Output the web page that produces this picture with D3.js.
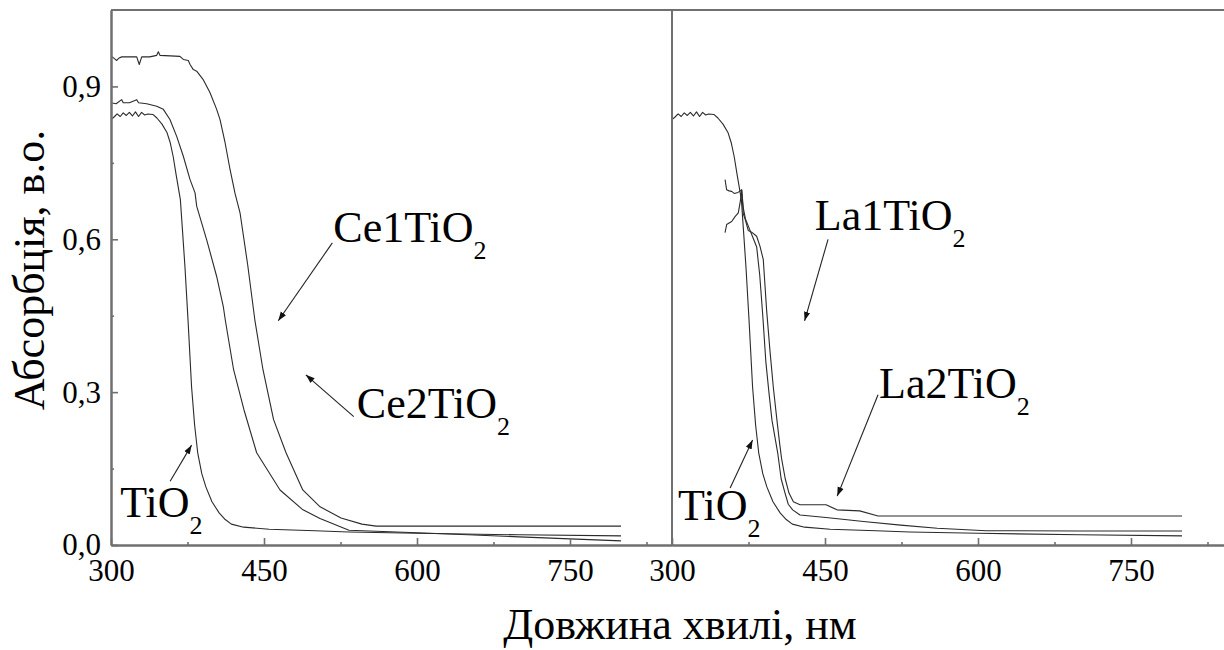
<!DOCTYPE html>
<html>
<head>
<meta charset="utf-8">
<script src="https://cdn.jsdelivr.net/npm/d3@7"></script>
<style>
  body { margin: 0; background: #fff; }
  svg { display: block; }
</style>
</head>
<body>
<svg id="chart" width="1224" height="650"></svg>
<script>
// Absorption spectra, [wavelength nm, absorbance a.u.]
const tio2 = [[300,0.835],[303,0.840],[306,0.846],[309,0.841],[312,0.848],[315,0.843],[318,0.849],[321,0.842],[324,0.850],[327,0.841],[330,0.849],[333,0.844],[336,0.846],[341,0.845],[345,0.838],[350,0.826],[355,0.809],[358,0.790],[361,0.762],[364,0.725],[368,0.678],[370,0.62],[372.5,0.546],[375.5,0.442],[379,0.31],[382,0.235],[385,0.181],[389,0.14],[393,0.114],[399,0.085],[406,0.063],[412,0.050],[418,0.041],[430,0.035],[455,0.031],[500,0.028],[533,0.0255],[600,0.023],[700,0.020],[800,0.018]];

const ce1 = [[300,0.960],[303,0.955],[305.6,0.951],[308,0.956],[310.5,0.958],[318,0.958],[325.2,0.958],[327.7,0.943],[330.1,0.958],[338,0.958],[344.8,0.961],[346.4,0.968],[348,0.961],[358,0.960],[367.6,0.959],[370.9,0.953],[375.8,0.951],[377.5,0.943],[380.7,0.933],[384,0.930],[390.2,0.914],[397,0.888],[403.6,0.855],[406.9,0.835],[411.8,0.79],[416.7,0.737],[421.6,0.69],[426.5,0.652],[434,0.55],[441,0.442],[449,0.344],[459.4,0.246],[471.6,0.181],[488,0.108],[505,0.075],[525.5,0.053],[546,0.041],[560,0.037],[800,0.037]];

const ce2 = [[300,0.868],[305,0.866],[310.5,0.874],[312,0.868],[318,0.868],[325.2,0.874],[327,0.868],[335,0.866],[344.8,0.861],[351.3,0.855],[357.8,0.835],[364.4,0.802],[370.9,0.763],[377.5,0.717],[382.4,0.691],[384,0.665],[393.8,0.599],[403.6,0.527],[410.1,0.468],[412,0.442],[420.2,0.344],[430.4,0.265],[442.8,0.181],[465.7,0.108],[488.2,0.069],[504.9,0.052],[533.3,0.029],[560,0.027],[600,0.024],[650,0.020],[700,0.016],[750,0.012],[800,0.008]];

const la1 = [[352,0.717],[353.6,0.697],[356,0.695],[358.5,0.694],[361,0.690],[364.7,0.692],[368.3,0.697],[370,0.66],[372,0.64],[376,0.62],[380,0.60],[383,0.585],[386,0.53],[389,0.45],[392,0.36],[395,0.30],[398,0.245],[403.7,0.18],[407,0.13],[410.8,0.102],[414,0.08],[418.3,0.069],[425.5,0.059],[451,0.054],[487.7,0.046],[524.2,0.039],[560,0.033],[608,0.028],[700,0.0275],[800,0.0275]];

const la2 = [[352,0.613],[353.6,0.629],[356,0.632],[358.5,0.635],[362,0.645],[365,0.652],[367,0.675],[368.3,0.697],[369.9,0.650],[371.6,0.640],[374.8,0.617],[378.1,0.614],[383,0.606],[386.3,0.586],[389.5,0.56],[392.8,0.46],[396.1,0.38],[399.3,0.31],[402.6,0.25],[405.5,0.20],[407.4,0.17],[411,0.13],[414.7,0.102],[419,0.085],[425.5,0.079],[451,0.079],[461.8,0.069],[484,0.067],[502,0.057],[800,0.057]];

const xMajorTicks = [300, 450, 600, 750];
const xMinorTicks = [375, 525, 675, 825];
const yMajorTicks = [0, 0.3, 0.6, 0.9];
const yMinorTicks = [0.15, 0.45, 0.75];
const yTickLabels = ["0,0", "0,3", "0,6", "0,9"];

const xDomain = [300, 850];
const yDomain = [0, 1.05];

// Each panel: its curves plus callout labels (text anchor point and arrow ends, in data units)
const panels = [
  {
    left: 111,
    curves: [tio2, ce2, ce1],
    labels: [
      { name: "Ce1TiO", sub: "2", at: [518, 0.594], from: [517, 0.593], to: [464, 0.44] },
      { name: "Ce2TiO", sub: "2", at: [541, 0.250], from: [538, 0.252], to: [491, 0.334] },
      { name: "TiO", sub: "2", at: [309, 0.055], from: [358, 0.125], to: [379, 0.196] }
    ]
  },
  {
    left: 672,
    curves: [tio2, la1, la2],
    labels: [
      { name: "La1TiO", sub: "2", at: [440, 0.619], from: [453, 0.600], to: [430, 0.44] },
      { name: "La2TiO", sub: "2", at: [503, 0.289], from: [502, 0.295], to: [462, 0.096] },
      { name: "TiO", sub: "2", at: [306, 0.049], from: [357, 0.112], to: [379, 0.206] }
    ]
  }
];

const panelWidth = 561, plotTop = 10, plotBottom = 545;
const axisColor = "#707070";
const lineColor = "#2b2b2b";
const serif = "'Liberation Serif', 'Times New Roman', Tinos, serif";

const svg = d3.select("#chart");
const y = d3.scaleLinear().domain(yDomain).range([plotBottom, plotTop]);

svg.append("defs").append("marker")
  .attr("id", "arrowhead")
  .attr("viewBox", "0 0 10 10")
  .attr("refX", 10).attr("refY", 5)
  .attr("markerWidth", 9).attr("markerHeight", 9)
  .attr("markerUnits", "userSpaceOnUse")
  .attr("orient", "auto")
  .append("path").attr("d", "M0,1.5 L10,5 L0,8.5 Z").attr("fill", "#111");

panels.forEach((p, i) => {
  const x = d3.scaleLinear().domain(xDomain).range([p.left, p.left + panelWidth]);
  const g = svg.append("g");

  // spectra
  const line = d3.line().x(d => x(d[0])).y(d => y(d[1]));
  g.selectAll("path.curve").data(p.curves).join("path")
    .attr("class", "curve")
    .attr("d", line)
    .attr("fill", "none")
    .attr("stroke", lineColor)
    .attr("stroke-width", 1.1)
    .attr("stroke-linejoin", "round");

  // bottom axis: major + minor ticks pointing inward
  const xMajor = d3.axisBottom(x).tickValues(xMajorTicks).tickSize(-7).tickSizeOuter(0).tickFormat(d3.format("d"));
  const xMinor = d3.axisBottom(x).tickValues(xMinorTicks).tickSize(-3).tickSizeOuter(0).tickFormat("");
  const gxMinor = g.append("g").attr("transform", `translate(0,${plotBottom})`).call(xMinor);
  const gx = g.append("g").attr("transform", `translate(0,${plotBottom})`).call(xMajor);
  [gx, gxMinor].forEach(a => {
    a.select(".domain").attr("stroke", axisColor).attr("stroke-width", 2);
    a.selectAll(".tick line").attr("stroke", axisColor).attr("stroke-width", 1.6);
  });
  gx.selectAll(".tick text")
    .style("font-family", serif)
    .style("font-size", "31px")
    .attr("fill", "#000")
    .attr("dy", "0.71em")
    .attr("y", 14);

  // top frame line
  g.append("line")
    .attr("x1", p.left).attr("x2", p.left + panelWidth)
    .attr("y1", plotTop).attr("y2", plotTop)
    .attr("stroke", axisColor).attr("stroke-width", 2);

  // left axis
  if (i === 0) {
    const yMajor = d3.axisLeft(y).tickValues(yMajorTicks).tickSize(-7).tickSizeOuter(0)
      .tickFormat((d, k) => yTickLabels[k]);
    const yMinor = d3.axisLeft(y).tickValues(yMinorTicks).tickSize(-3).tickSizeOuter(0).tickFormat("");
    const gyMinor = g.append("g").attr("transform", `translate(${p.left},0)`).call(yMinor);
    const gy = g.append("g").attr("transform", `translate(${p.left},0)`).call(yMajor);
    [gy, gyMinor].forEach(a => {
      a.select(".domain").attr("stroke", axisColor).attr("stroke-width", 2);
      a.selectAll(".tick line").attr("stroke", axisColor).attr("stroke-width", 1.6);
    });
    gy.selectAll(".tick text")
      .style("font-family", serif)
      .style("font-size", "31px")
      .attr("fill", "#000")
      .attr("x", -10);
  } else {
    g.append("line")
      .attr("x1", p.left).attr("x2", p.left)
      .attr("y1", plotTop).attr("y2", plotBottom)
      .attr("stroke", axisColor).attr("stroke-width", 2);
  }

  // callouts
  p.labels.forEach(l => {
    g.append("line")
      .attr("x1", x(l.from[0])).attr("y1", y(l.from[1]))
      .attr("x2", x(l.to[0])).attr("y2", y(l.to[1]))
      .attr("stroke", "#222").attr("stroke-width", 1.1)
      .attr("marker-end", "url(#arrowhead)");
    const t = g.append("text")
      .attr("x", x(l.at[0])).attr("y", y(l.at[1]))
      .style("font-family", serif)
      .style("font-size", "44px")
      .attr("fill", "#000");
    t.append("tspan").text(l.name);
    t.append("tspan").attr("dy", 17).style("font-size", "26px").text(l.sub);
  });
});

// axis titles
svg.append("text")
  .attr("x", 680).attr("y", 639)
  .attr("text-anchor", "middle")
  .style("font-family", serif)
  .style("font-size", "44px")
  .attr("fill", "#000")
  .text("Довжина хвилі, нм");

svg.append("text")
  .attr("transform", "translate(44,270) rotate(-90)")
  .attr("text-anchor", "middle")
  .style("font-family", serif)
  .style("font-size", "44px")
  .attr("fill", "#000")
  .text("Абсорбція, в.о.");
</script>
</body>
</html>
